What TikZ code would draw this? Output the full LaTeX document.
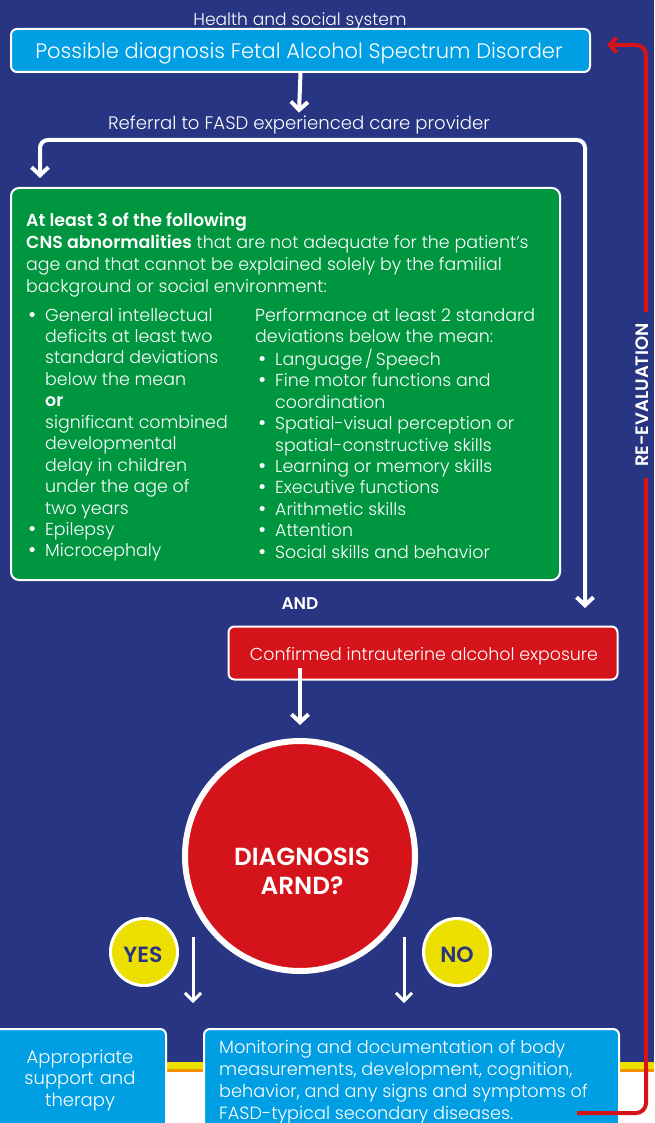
\documentclass[tikz,border=0pt]{standalone}
\usepackage{fontspec}
\setmainfont{Poppins}[UprightFont=* Light, BoldFont=* SemiBold]
\newfontfamily\bulfont{DejaVu Sans}
\usetikzlibrary{arrows.meta}
\definecolor{navy}{RGB}{40,53,131}
\definecolor{cblue}{RGB}{0,159,227}
\definecolor{cgreen}{RGB}{0,150,64}
\definecolor{cred}{RGB}{213,19,26}
\definecolor{cyellow}{RGB}{237,224,0}
\definecolor{corange}{RGB}{243,146,0}
\newcommand\fs[2]{\fontsize{#1}{#2}\selectfont}
\newcommand\bul{{\bulfont •}}
\tikzset{
  box/.style={draw=white, line width=2pt, rounded corners=6pt, text=white, inner sep=0pt},
  txt/.style={text=white, inner sep=0pt, anchor=base},
  col/.style={anchor=base west, inner sep=0pt, text=white},
  warrow/.style={white, line width=4pt, -{Straight Barb[length=8pt,width=17pt]}},
  wboth/.style={white, line width=4pt, rounded corners=8pt, {Straight Barb[length=8pt,width=17pt]}-{Straight Barb[length=8pt,width=17pt]}},
  tarrow/.style={white, line width=3pt, -{Straight Barb[length=8pt,width=16pt]}},
  rarrow/.style={cred, line width=4pt, rounded corners=10pt, -{Straight Barb[length=7pt,width=15pt]}},
  yn/.style={circle, fill=cyellow, draw=white, line width=3pt, minimum size=67pt, inner sep=0pt},
  yntxt/.style={anchor=base, inner sep=0pt, text=navy, font=\fs{22}{24}\bfseries}
}
\begin{document}
\begin{tikzpicture}[x=1pt,y=-1pt]
\clip (0,0) rectangle (654,1123);
\fill[navy] (0,0) rectangle (654,1062);
\fill[cyellow] (0,1062) rectangle (654,1069);
\fill[corange] (0,1069) rectangle (654,1072);
\fill[white] (0,1072) rectangle (654,1123);

% top
\node[txt, font=\fs{17.1}{20}] (hs) at (300,26) {Health and social system};
\node[box, fill=cblue, minimum width=579pt, minimum height=43pt] (top) at (300.5,50.5) {};
\node[txt, font=\fs{21}{24}] (topt) at (299,59) {Possible diagnosis Fetal Alcohol Spectrum Disorder};
\node[txt, font=\fs{18.1}{21}] (ref) at (299,129.5) {Referral to FASD experienced care provider};
\draw[warrow] (top.south) -- ([yshift=3pt]ref.north);

% green box
\node[box, fill=cgreen, rounded corners=8pt, minimum width=549pt, minimum height=392pt] (cns) at (285.5,384) {};
\coordinate (la) at (40,178);
\coordinate (tl) at (40,140);
\coordinate (tr) at (585,140);
\coordinate (ra) at (585,608);
\draw[wboth] (la) -- (tl) -- (tr) -- (ra);

\node[col, font=\fs{17.4}{22}] (hd) at (26,226) {\begin{tabular}[t]{@{}l@{}}
\textbf{At least 3 of the following}\\
\textbf{CNS abnormalities} that are not adequate for the patient’s\\
age and that cannot be explained solely by the familial\\
background or social environment:
\end{tabular}};

\node[col, font=\fs{17.4}{21.45}] (lc) at (27,321) {\begin{tabular}[t]{@{}p{18pt}@{}l@{}}
\bul&General intellectual\\
&deficits at least two\\
&standard deviations\\
&below the mean\\
&\textbf{or}\\
&significant combined\\
&developmental\\
&delay in children\\
&under the age of\\
&two years\\
\bul&Epilepsy\\
\bul&Microcephaly
\end{tabular}};

\node[col, font=\fs{17.4}{21.45}] (rc) at (255,321) {\begin{tabular}[t]{@{}p{20pt}@{}l@{}}
\multicolumn{2}{@{}l@{}}{Performance at least 2 standard}\\
\multicolumn{2}{@{}l@{}}{deviations below the mean:}\\
\hspace{2pt}\bul&Language\,/\,Speech\\
\hspace{2pt}\bul&Fine motor functions and\\
&coordination\\
\hspace{2pt}\bul&Spatial-visual perception or\\
&spatial-constructive skills\\
\hspace{2pt}\bul&Learning or memory skills\\
\hspace{2pt}\bul&Executive functions\\
\hspace{2pt}\bul&Arithmetic skills\\
\hspace{2pt}\bul&Attention\\
\hspace{2pt}\bul&Social skills and behavior
\end{tabular}};

\node[txt, font=\fs{17}{20}\bfseries] (and) at (300,609) {AND};

% red box
\node[box, fill=cred, minimum width=389pt, minimum height=53pt] (conf) at (423,653) {};
\node[txt, font=\fs{17.4}{20}] (conft) at (424,660) {Confirmed intrauterine alcohol exposure};

% circle
\node[circle, fill=cred, draw=white, line width=6pt, minimum size=230pt, inner sep=0pt] (diag) at (300,856) {};
\node[txt, font=\fs{24.7}{29}\bfseries] (diagt1) at (302,865) {DIAGNOSIS};
\node[txt, font=\fs{24.7}{29}\bfseries] (diagt2) at (302,894) {ARND?};
\coordinate (a1) at (300,668);
\draw[warrow] (a1) -- ([yshift=13pt]diag.north);

% yes / no
\node[yn] (yes) at (144,952) {};
\node[yntxt] (yest) at (143,962) {YES};
\node[yn] (no) at (457,952) {};
\node[yntxt] (not) at (457,962) {NO};
\coordinate (ya) at (193,937);
\coordinate (yb) at (193,1003);
\coordinate (na) at (404,937);
\coordinate (nb) at (404,1003);
\draw[tarrow] (ya) -- (yb);
\draw[tarrow] (na) -- (nb);

% bottom boxes
\node[box, fill=cblue, minimum width=185pt, minimum height=130pt, anchor=north west] (sup) at (-20,1028) {};
\node[anchor=base, inner sep=0pt, text=white, text width=150pt, align=center, font=\fs{18}{21.5}] (supt) at (80,1063) {Appropriate\\support and\\therapy};
\node[box, fill=cblue, minimum width=415pt, minimum height=130pt, anchor=north west] (mon) at (203,1028) {};
\node[col, font=\fs{17.7}{22}] (mont) at (219,1053) {\begin{tabular}[t]{@{}l@{}}
Monitoring and documentation of body\\
measurements, development, cognition,\\
behavior, and any signs and symptoms of\\
FASD-typical secondary diseases.
\end{tabular}};

% re-evaluation
\coordinate (rs) at (577,1113);
\coordinate (rt) at (607,45);
\draw[rarrow] (rs) -- (646,1113) -- (646,45) -- (rt);
\node[fill=navy, text=white, rotate=90, inner xsep=11pt, inner ysep=2pt, font=\fs{18}{22}\bfseries] (reev) at (642.5,395) {RE-EVALUATION};
\end{tikzpicture}
\end{document}
